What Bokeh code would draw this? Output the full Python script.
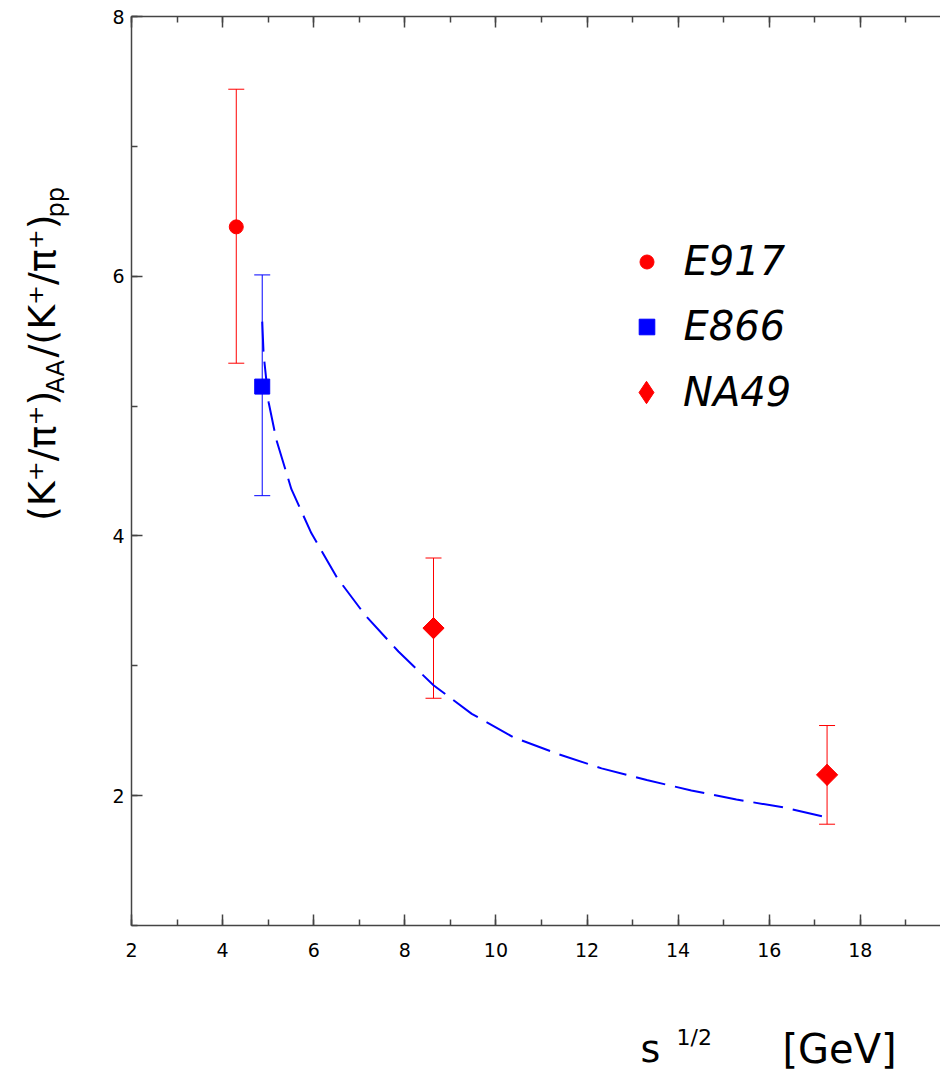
import math
from bokeh.plotting import figure
from bokeh.models import (Range1d, LinearAxis, SingleIntervalTicker, Whisker, TeeHead,
                          ColumnDataSource, Legend, LegendItem, Label, CustomJSTickFormatter)
from bokeh.embed import file_html
from bokeh.resources import INLINE

# ---------------- data ----------------
x_tick_values = [2, 4, 6, 8, 10, 12, 14, 16, 18]
y_tick_values = [2, 4, 6, 8]

e917_x = [4.30]
e917_y = [6.38]
e917_lo = [5.33]
e917_hi = [7.44]

e866_x = [4.87]
e866_y = [5.15]
e866_lo = [4.31]
e866_hi = [6.01]

na49_x = [8.63, 17.27]
na49_y = [3.29, 2.16]
na49_lo = [2.75, 1.78]
na49_hi = [3.83, 2.54]

curve_x = [4.87, 4.90, 5.01, 5.18, 5.51, 5.95, 6.51, 7.13, 7.86, 8.63, 9.47,
           10.38, 11.37, 12.32, 13.31, 14.29, 15.28, 16.30, 17.29]
curve_y = [5.65, 5.40, 5.03, 4.74, 4.36, 4.02, 3.68, 3.39, 3.11, 2.85, 2.63,
           2.45, 2.32, 2.21, 2.12, 2.04, 1.97, 1.91, 1.83]

series_labels = ["E917", "E866", "NA49"]

# ---------------- geometry of the drawing area ----------------
W, H = 940, 1074
X0, X1 = 2.0, 19.76          # x axis extent
Y0, Y1 = 1.0, 8.0            # y axis extent
FL, FR, FT, FB = 131, 940, 16, 925   # pixel box of the axes
sx = (FR - FL) / (X1 - X0)
sy = (FB - FT) / (Y1 - Y0)
xr = Range1d(X0 - FL / sx, X1 + (W - FR) / sx)
yr = Range1d(Y0 - (H - FB) / sy, Y1 + FT / sy)

AX = "#444444"
FONT = "DejaVu Sans"

p = figure(width=W, height=H, output_backend="svg", toolbar_location=None,
           x_range=xr, y_range=yr, x_axis_location=None, y_axis_location=None,
           min_border=0)
p.outline_line_color = None
p.background_fill_color = "white"
p.border_fill_color = "white"
p.grid.visible = False
p.grid.grid_line_color = None


def make_axis(bounds, loc, labels=True):
    ax = LinearAxis(ticker=SingleIntervalTicker(interval=2, num_minor_ticks=2),
                    bounds=bounds, fixed_location=loc)
    if not labels:
        ax.formatter = CustomJSTickFormatter(code="return ''")
    ax.axis_line_color = AX
    ax.axis_line_width = 1.5
    ax.major_tick_line_color = AX
    ax.major_tick_line_width = 1.5
    ax.minor_tick_line_color = AX
    ax.minor_tick_line_width = 1.5
    ax.major_tick_in = 11
    ax.major_tick_out = 0
    ax.minor_tick_in = 6
    ax.minor_tick_out = 0
    ax.major_label_text_font = FONT
    ax.major_label_text_color = "black"
    ax.major_label_text_font_size = "19px"
    return ax


bottom_axis = make_axis((X0, X1), Y0)
bottom_axis.major_label_standoff = 17
left_axis = make_axis((Y0, Y1), X0)
left_axis.major_label_standoff = 7
top_axis = make_axis((X0, X1), Y1, labels=False)
top_axis.major_label_standoff = 0
p.add_layout(bottom_axis, "below")
p.add_layout(left_axis, "left")
p.add_layout(top_axis, "above")

# ---------------- data glyphs ----------------
src917 = ColumnDataSource(dict(x=e917_x, y=e917_y, lo=e917_lo, hi=e917_hi))
src866 = ColumnDataSource(dict(x=e866_x, y=e866_y, lo=e866_lo, hi=e866_hi))
src49 = ColumnDataSource(dict(x=na49_x, y=na49_y, lo=na49_lo, hi=na49_hi))


def whisk(src, color):
    w = Whisker(base="x", upper="hi", lower="lo", source=src,
                line_color=color, line_width=1,
                upper_head=TeeHead(size=16, line_color=color, line_width=1),
                lower_head=TeeHead(size=16, line_color=color, line_width=1))
    w.level = "underlay"
    p.add_layout(w)


whisk(src917, "red")
whisk(src866, "blue")
whisk(src49, "red")

p.line(curve_x, curve_y, line_color="blue", line_width=2, line_dash="30 10")

r917 = p.scatter("x", "y", source=src917, marker="circle", size=14,
                 fill_color="red", line_color="red")
r866 = p.scatter("x", "y", source=src866, marker="square", size=15,
                 fill_color="blue", line_color="blue")
# diamond used for the legend symbol (hidden under the rotated square in the plot)
r49_leg = p.scatter("x", "y", source=src49, marker="diamond", size=21,
                    fill_color="red", line_color="red")
r49 = p.scatter("x", "y", source=src49, marker="square", size=15, angle=math.pi / 4,
                fill_color="red", line_color="red")


def add_legend(label, renderer, g, row_center_y, marker_x=646, text_x=683):
    h = max(g, 44)
    lg = Legend(items=[LegendItem(label=label, renderers=[renderer])],
                location=(marker_x - g / 2, H - (row_center_y + h / 2)))
    lg.border_line_color = None
    lg.background_fill_alpha = 0
    lg.padding = 0
    lg.margin = 0
    lg.glyph_width = g
    lg.glyph_height = g
    lg.label_height = g
    lg.label_standoff = int(round(text_x - (marker_x + g / 2)))
    lg.label_text_font = FONT
    lg.label_text_font_style = "italic"
    lg.label_text_font_size = "40px"
    lg.label_text_color = "black"
    p.add_layout(lg, "center")


add_legend(series_labels[0], r917, 35, 262.3)
add_legend(series_labels[1], r866, 39, 327.3)
add_legend(series_labels[2], r49_leg, 56, 392.3)

# ---------------- axis titles ----------------
MID = 0.346   # distance (in em) from the text's middle line to its baseline


def hlab(text, x, baseline_y, size):
    p.add_layout(Label(x=x, y=H - (baseline_y - MID * size), x_units="screen",
                       y_units="screen", text=text, text_font=FONT,
                       text_font_size=f"{size}px", text_align="left",
                       text_baseline="middle", text_color="black"))


def vlab(text, baseline_x, start_y, size):
    p.add_layout(Label(x=baseline_x - MID * size, y=H - start_y, x_units="screen",
                       y_units="screen", text=text, text_font=FONT,
                       text_font_size=f"{size}px", angle=math.pi / 2,
                       text_align="left", text_baseline="middle", text_color="black"))


vlab("(K\u207a/\u03c0\u207a)", 55, 520.5, 38)
vlab("AA", 64, 393, 24)
vlab("/(K\u207a/\u03c0\u207a)", 55, 357, 38)
vlab("pp", 64, 217, 24)

hlab("s", 640, 1062, 38)
hlab("1/2", 676, 1045, 22)
hlab("[GeV]", 782, 1062, 40)

open("out.html", "w").write(file_html(p, INLINE))
